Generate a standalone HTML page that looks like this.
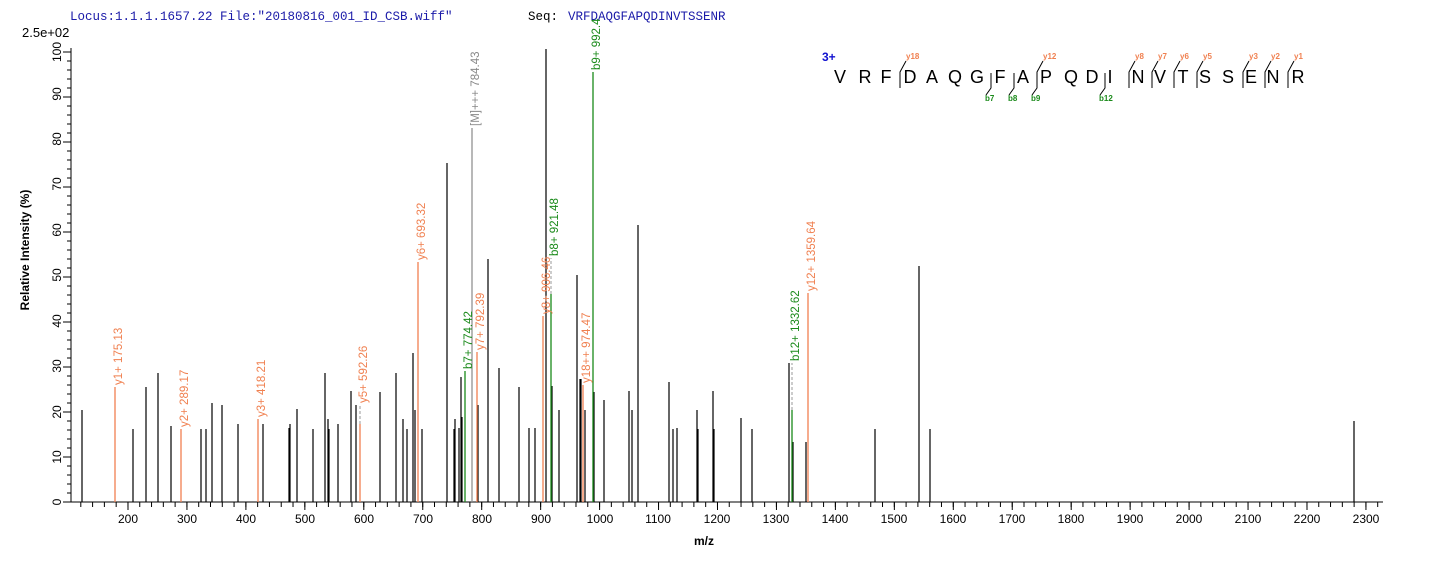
<!DOCTYPE html>
<html><head><meta charset="utf-8"><style>
html,body{margin:0;padding:0;background:#fff;}
svg{display:block;}
</style></head><body>
<svg width="1436" height="562" viewBox="0 0 1436 562" xmlns="http://www.w3.org/2000/svg" font-family="Liberation Sans, sans-serif">
<rect width="1436" height="562" fill="#fff"/>
<text x="70" y="20" font-family="Liberation Mono, monospace" font-size="12.5" fill="#1a1aa8">Locus:1.1.1.1657.22 File:"20180816_001_ID_CSB.wiff"</text>
<text x="528" y="20" font-family="Liberation Mono, monospace" font-size="12.5" fill="#000">Seq:</text>
<text x="568" y="20" font-family="Liberation Mono, monospace" font-size="12.5" fill="#1a1aa8">VRFDAQGFAPQDINVTSSENR</text>
<text x="22" y="37" font-size="13" fill="#000">2.5e+02</text>

<!-- axes -->
<path d="M71 502H1383M71 502V48" stroke="#000" stroke-width="1" fill="none"/>
<line x1="80.3" y1="504.5" x2="1383" y2="504.5" stroke="#000" stroke-width="5" stroke-dasharray="1 10.79"/>
<line x1="127.5" y1="506" x2="1383" y2="506" stroke="#000" stroke-width="8" stroke-dasharray="1 57.95"/>
<line x1="69" y1="502.5" x2="69" y2="48" stroke="#000" stroke-width="4" stroke-dasharray="1 8"/>
<line x1="67" y1="502.5" x2="67" y2="48" stroke="#000" stroke-width="8" stroke-dasharray="1 44"/>

<g font-size="12" fill="#000" text-anchor="middle">
<text x="128" y="523">200</text><text x="187" y="523">300</text><text x="246" y="523">400</text><text x="305" y="523">500</text><text x="364" y="523">600</text><text x="423" y="523">700</text><text x="482" y="523">800</text><text x="541" y="523">900</text><text x="600" y="523">1000</text><text x="658" y="523">1100</text><text x="717" y="523">1200</text><text x="776" y="523">1300</text><text x="835" y="523">1400</text><text x="894" y="523">1500</text><text x="953" y="523">1600</text><text x="1012" y="523">1700</text><text x="1071" y="523">1800</text><text x="1130" y="523">1900</text><text x="1189" y="523">2000</text><text x="1248" y="523">2100</text><text x="1307" y="523">2200</text><text x="1366" y="523">2300</text>
</g>
<g font-size="12" fill="#000" text-anchor="middle">
<text transform="translate(61,502) rotate(-90)">0</text>
<text transform="translate(61,457) rotate(-90)">10</text>
<text transform="translate(61,412) rotate(-90)">20</text>
<text transform="translate(61,366) rotate(-90)">30</text>
<text transform="translate(61,321) rotate(-90)">40</text>
<text transform="translate(61,275) rotate(-90)">50</text>
<text transform="translate(61,230) rotate(-90)">60</text>
<text transform="translate(61,184) rotate(-90)">70</text>
<text transform="translate(61,139) rotate(-90)">80</text>
<text transform="translate(61,94) rotate(-90)">90</text>
<text transform="translate(61,52) rotate(-90)">100</text>
</g>
<text transform="translate(29,250) rotate(-90)" font-size="12" font-weight="bold" text-anchor="middle">Relative   Intensity (%)</text>
<text x="704" y="545" font-size="12" font-weight="bold" text-anchor="middle">m/z</text>

<!-- black peaks -->
<path stroke="#000" stroke-width="1.2" fill="none" d="M82 502V410M133 502V429M146 502V387M158 502V373M171 502V426M201 502V429M206 502V429M212 502V403M222 502V405M238 502V424M263 502V424M289 502V428M290 502V424M297 502V409M313 502V429M325 502V373M328 502V419M329 502V429M338 502V424M351 502V391M356 502V405M380 502V392M396 502V373M403 502V419M407 502V429M413 502V353M415 502V410M422 502V429M447 502V163M454 502V429M455 502V419M459 502V428M461 502V377M462 502V417M478 502V405M488 502V259M499 502V368M519 502V387M529 502V428M535 502V428M546 502V49M552 502V386M559 502V410M577 502V275M580 502V379M581 502V379M585 502V410M594 502V392M604 502V400M629 502V391M632 502V410M638 502V225M669 502V382M673 502V429M677 502V428M697 502V410M698 502V429M713 502V391M714 502V429M741 502V418M752 502V429M789 502V363M793 502V442M806 502V442M875 502V429M919 502V266M930 502V429M1354 502V421"/>
<!-- dashed connectors -->
<path stroke="#999" stroke-width="1" stroke-dasharray="3 2" fill="none" d="M360 424V405M551 294V258M792 410V363"/>
<!-- orange peaks -->
<path stroke="#f08050" stroke-width="1.3" fill="none" d="M115 502V387M181 502V429M258 502V419M360 502V424M418 502V262M477 502V352M543 502V316M583 502V385M808 502V293"/>
<!-- green peaks -->
<path stroke="#1a8a1a" stroke-width="1.3" fill="none" d="M465 502V371M551 502V294M593 502V72M792 502V410"/>
<path stroke="#888" stroke-width="1.2" fill="none" d="M472 502V128"/>

<g font-size="11.5">
<text transform="translate(122,385) rotate(-90)" fill="#f08050">y1+ 175.13</text>
<text transform="translate(188,427) rotate(-90)" fill="#f08050">y2+ 289.17</text>
<text transform="translate(265,417) rotate(-90)" fill="#f08050">y3+ 418.21</text>
<text transform="translate(367,403) rotate(-90)" fill="#f08050">y5+ 592.26</text>
<text transform="translate(425,260) rotate(-90)" fill="#f08050">y6+ 693.32</text>
<text transform="translate(484,350) rotate(-90)" fill="#f08050">y7+ 792.39</text>
<text transform="translate(550,314) rotate(-90)" fill="#f08050">y8+ 906.46</text>
<text transform="translate(590,383) rotate(-90)" fill="#f08050">y18++ 974.47</text>
<text transform="translate(815,291) rotate(-90)" fill="#f08050">y12+ 1359.64</text>
<text transform="translate(472,369) rotate(-90)" fill="#1a8a1a">b7+ 774.42</text>
<text transform="translate(558,256) rotate(-90)" fill="#1a8a1a">b8+ 921.48</text>
<text transform="translate(600,70) rotate(-90)" fill="#1a8a1a">b9+ 992.4</text>
<text transform="translate(799,361) rotate(-90)" fill="#1a8a1a">b12+ 1332.62</text>
<text transform="translate(479,126) rotate(-90)" fill="#888">[M]+++ 784.43</text>
</g>

<!-- sequence -->
<text x="822" y="61" font-size="12" font-weight="bold" fill="#1010d0">3+</text>
<g font-size="18" text-anchor="middle" fill="#000">
<text x="840" y="83">V</text><text x="865" y="83">R</text><text x="886" y="83">F</text><text x="910" y="83">D</text><text x="932" y="83">A</text><text x="955" y="83">Q</text><text x="977" y="83">G</text><text x="1000" y="83">F</text><text x="1023" y="83">A</text><text x="1046" y="83">P</text><text x="1071" y="83">Q</text><text x="1092" y="83">D</text><text x="1110" y="83">I</text><text x="1138" y="83">N</text><text x="1160" y="83">V</text><text x="1183" y="83">T</text><text x="1205" y="83">S</text><text x="1228" y="83">S</text><text x="1251" y="83">E</text><text x="1273" y="83">N</text><text x="1298" y="83">R</text>
</g>
<path stroke="#000" stroke-width="1" fill="none" d="M900 88V72L906 61M1037 88V72L1043 61M1129 88V72L1135 61M1152 88V72L1158 61M1174 88V72L1180 61M1197 88V72L1203 61M1243 88V72L1249 61M1265 88V72L1271 61M1288 88V72L1294 61M991 73V88L986 95M1014 73V88L1009 95M1037 73V88L1032 95M1105 73V88L1100 95"/>
<g font-size="8" font-weight="bold" fill="#f08050">
<text x="906" y="59">y18</text><text x="1043" y="59">y12</text><text x="1135" y="59">y8</text><text x="1158" y="59">y7</text><text x="1180" y="59">y6</text><text x="1203" y="59">y5</text><text x="1249" y="59">y3</text><text x="1271" y="59">y2</text><text x="1294" y="59">y1</text>
</g>
<g font-size="8" font-weight="bold" fill="#1a8a1a">
<text x="985" y="101">b7</text><text x="1008" y="101">b8</text><text x="1031" y="101">b9</text><text x="1099" y="101">b12</text>
</g>
</svg>
</body></html>
